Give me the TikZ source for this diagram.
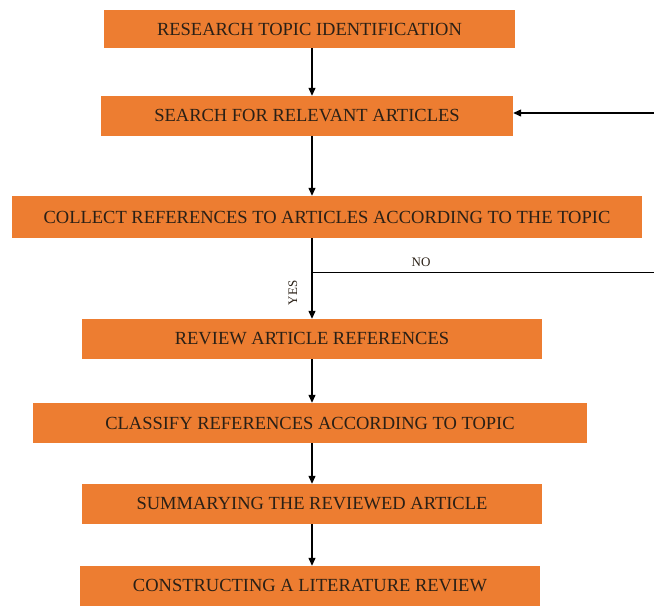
\documentclass[tikz,border=0pt]{standalone}
\usepackage{fontspec}
\setmainfont{Liberation Serif}
\usetikzlibrary{arrows.meta}
\definecolor{boxorange}{HTML}{ED7D31}
\definecolor{boxtext}{HTML}{2A2016}
\tikzset{
  stepbox/.style={fill=boxorange, text=boxtext, minimum height=40pt, inner sep=0pt,
    font=\fontsize{18.5}{20}\selectfont},
  flow/.style={-{Triangle[length=8pt,width=7pt]}, line width=1.2pt},
  flowline/.style={line width=1pt},
  lbl/.style={font=\fontsize{13}{15}\selectfont, text=boxtext}
}
\begin{document}
\begin{tikzpicture}[x=1pt,y=-1pt]
\useasboundingbox (0,0) rectangle (654,606);
% boxes
\node[stepbox, minimum width=411pt, minimum height=38pt] (topic) at (309.5,29) {RESEARCH TOPIC IDENTIFICATION};
\node[stepbox, minimum width=412pt] (search) at (307,116) {SEARCH FOR RELEVANT ARTICLES};
\node[stepbox, minimum width=630pt, minimum height=42pt] (collect) at (327,217) {COLLECT REFERENCES TO ARTICLES ACCORDING TO THE TOPIC};
\node[stepbox, minimum width=460pt] (review) at (312,339) {REVIEW ARTICLE REFERENCES};
\node[stepbox, minimum width=554pt] (classify) at (310,423) {CLASSIFY REFERENCES ACCORDING TO TOPIC};
\node[stepbox, minimum width=460pt] (summary) at (312,504) {SUMMARYING THE REVIEWED ARTICLE};
\node[stepbox, minimum width=460pt] (construct) at (310,586) {CONSTRUCTING A LITERATURE REVIEW};
% helper points
\coordinate (axis) at (312,0);
\coordinate (nojoin) at (312,272);
\coordinate (noend) at (654,272);
\coordinate (backstart) at (654,113);
% arrows
\draw[flow] (topic.south -| axis) -- (search.north -| axis);
\draw[flow] (search.south -| axis) -- (collect.north -| axis);
\draw[flow] (collect.south -| axis) -- (review.north -| axis);
\draw[flow] (review.south -| axis) -- (classify.north -| axis);
\draw[flow] (classify.south -| axis) -- (summary.north -| axis);
\draw[flow] (summary.south -| axis) -- (construct.north -| axis);
\draw[flowline] (nojoin) -- (noend);
\draw[flow] (backstart) -- (search.east |- backstart);
% labels
\node[lbl] (nolbl) at (421,262) {NO};
\node[lbl, rotate=90] (yeslbl) at (293,293) {YES};
\end{tikzpicture}
\end{document}
